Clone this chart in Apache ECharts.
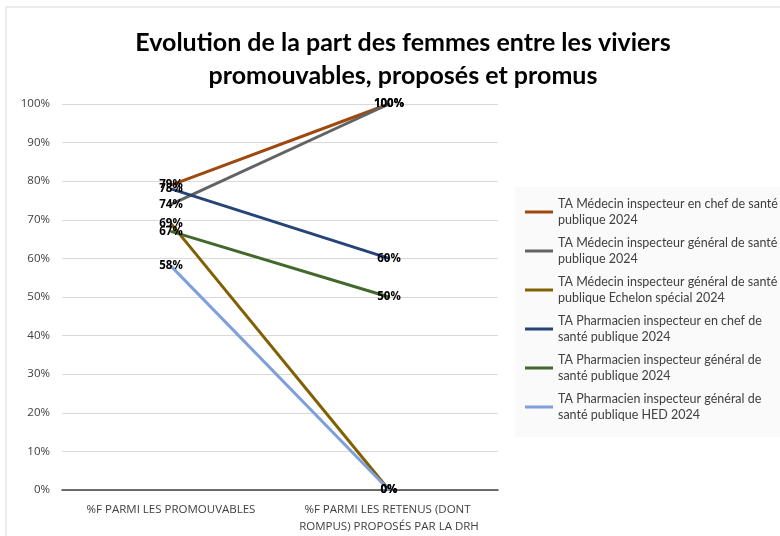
<!DOCTYPE html>
<html>
<head>
<meta charset="utf-8">
<script src="https://cdn.jsdelivr.net/npm/echarts@6/dist/echarts.min.js"></script>
<style>
  html, body { margin: 0; padding: 0; background: #fff; }
  #chart { width: 780px; height: 536px; }
</style>
</head>
<body>
<div id="chart"></div>
<script>
  // catégories (axe X)
  const categories = ['%F PARMI LES PROMOUVABLES', '%F PARMI LES RETENUS (DONT ROMPUS) PROPOSÉS PAR LA DRH'];
  // noms des séries
  const seriesNames = [
    'TA Médecin inspecteur en chef de santé publique 2024',
    'TA Médecin inspecteur général de santé publique 2024',
    'TA Médecin inspecteur général de santé publique Echelon spécial 2024',
    'TA Pharmacien inspecteur en chef de santé publique 2024',
    'TA Pharmacien inspecteur général de santé publique 2024',
    'TA Pharmacien inspecteur général de santé publique HED 2024'
  ];
  // libellés de légende (retours à la ligne comme dans l'original)
  const legendLabels = [
    'TA Médecin inspecteur en chef de santé\npublique 2024',
    'TA Médecin inspecteur général de santé\npublique 2024',
    'TA Médecin inspecteur général de santé\npublique Echelon spécial 2024',
    'TA Pharmacien inspecteur en chef de\nsanté publique 2024',
    'TA Pharmacien inspecteur général de\nsanté publique 2024',
    'TA Pharmacien inspecteur général de\nsanté publique HED 2024'
  ];
  // valeurs en %
  const medecinChef = [79, 100];
  const medecinGeneral = [74, 100];
  const medecinEchelonSpecial = [69, 0];
  const pharmacienChef = [78, 60];
  const pharmacienGeneral = [67, 50];
  const pharmacienHED = [58, 0];
  const yTicks = [0, 10, 20, 30, 40, 50, 60, 70, 80, 90, 100];

  const values = [medecinChef, medecinGeneral, medecinEchelonSpecial, pharmacienChef, pharmacienGeneral, pharmacienHED];
  const colors = ['#9E480E', '#636363', '#806000', '#264478', '#43682B', '#7F9FDB'];

  let myChart = echarts.init(document.getElementById('chart'));
  myChart.setOption({
    animation: false,
    color: colors,
    title: {
      text: 'Evolution de la part des femmes entre les viviers\npromouvables, proposés et promus',
      left: 398,
      textAlign: 'center',
      top: 21,
      textStyle: {
        fontFamily: 'Lato, sans-serif',
        fontSize: 25,
        fontWeight: 'bold',
        color: '#000',
        lineHeight: 33
      }
    },
    graphic: [{
      type: 'rect',
      shape: { x: 6, y: 7, width: 790, height: 540 },
      style: { fill: 'none', stroke: '#d9d9d9', lineWidth: 1 },
      silent: true
    }, {
      type: 'rect',
      shape: { x: 515, y: 187, width: 270, height: 250 },
      style: { fill: '#fafafa', stroke: 'none' },
      silent: true,
      z: -1
    }],
    legend: {
      orient: 'vertical',
      left: 520,
      top: 191,
      itemWidth: 28,
      itemHeight: 3,
      itemGap: 7,
      icon: 'rect',
      data: seriesNames,
      formatter: function (name) {
        return legendLabels[seriesNames.indexOf(name)];
      },
      textStyle: {
        fontFamily: 'Lato, sans-serif',
        fontSize: 12.5,
        color: '#404040',
        lineHeight: 16
      }
    },
    grid: {
      left: 62,
      right: 282,
      top: 104,
      bottom: 46
    },
    xAxis: {
      type: 'category',
      data: categories,
      boundaryGap: true,
      axisLine: { lineStyle: { color: '#404040', width: 1.5 } },
      axisTick: { show: false },
      axisLabel: {
        interval: 0,
        color: '#404040',
        fontFamily: 'Open Sans, sans-serif',
        fontSize: 11.5,
        margin: 11,
        width: 190,
        overflow: 'break',
        lineHeight: 17
      }
    },
    yAxis: {
      type: 'value',
      min: yTicks[0],
      max: yTicks[yTicks.length - 1],
      interval: 10,
      axisLine: { show: false },
      axisTick: { show: false },
      splitLine: { lineStyle: { color: '#d9d9d9' } },
      axisLabel: {
        formatter: '{value}%',
        color: '#404040',
        fontFamily: 'Open Sans, sans-serif',
        fontSize: 11.5,
        margin: 12
      }
    },
    series: seriesNames.map(function (name, i) {
      return {
        name: name,
        type: 'line',
        data: values[i],
        symbol: 'circle',
        symbolSize: 2,
        showSymbol: true,
        lineStyle: { width: 3 },
        label: {
          show: true,
          position: 'inside',
          formatter: '{c}%',
          color: '#000',
          fontWeight: 'bold',
          fontFamily: 'Open Sans, sans-serif',
          fontSize: 11.5
        },
        labelLayout: { hideOverlap: false }
      };
    })
  });
</script>
</body>
</html>
